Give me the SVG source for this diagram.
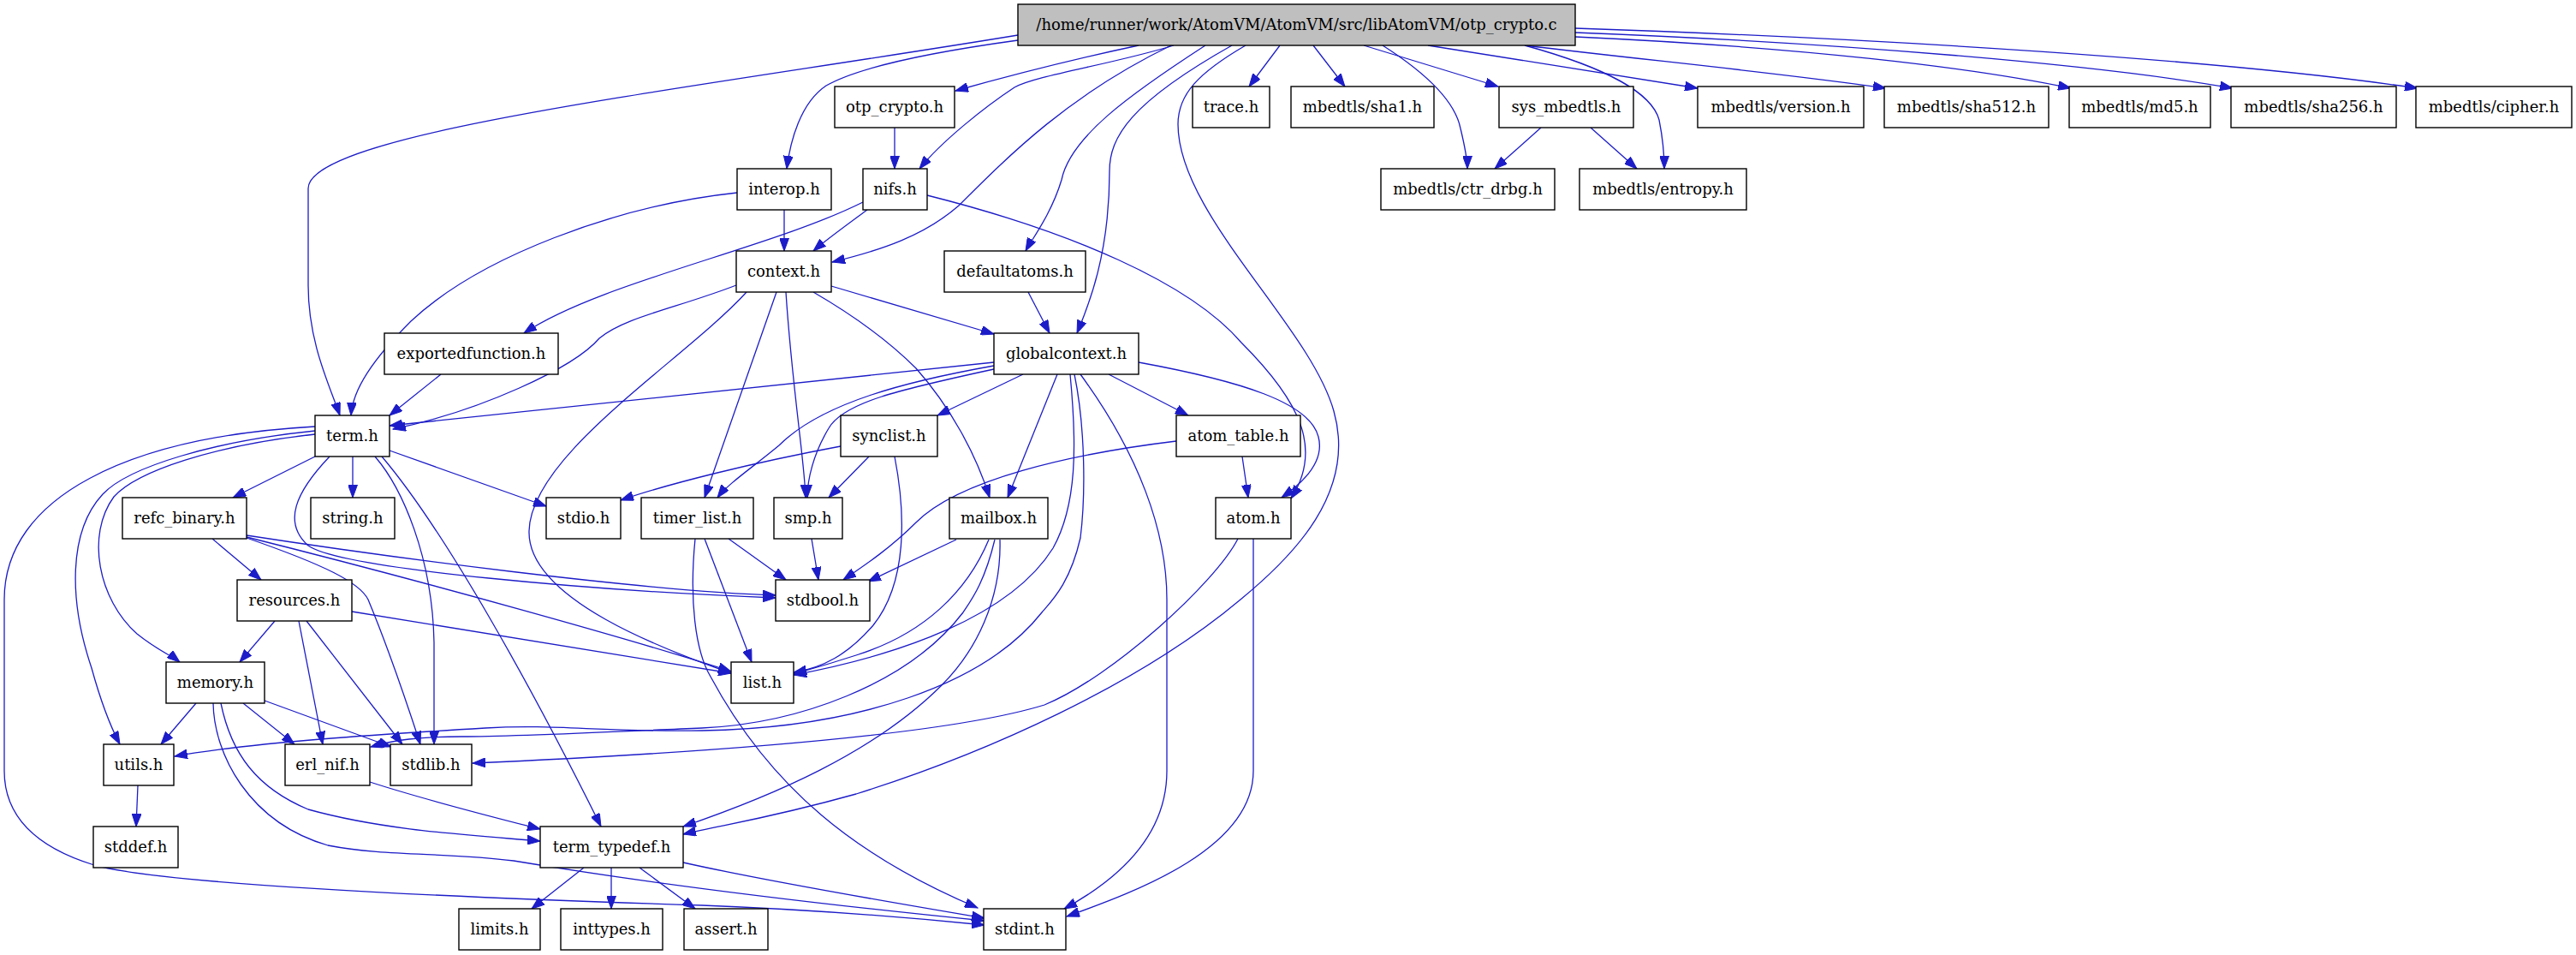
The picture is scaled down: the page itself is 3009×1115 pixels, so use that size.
<svg xmlns="http://www.w3.org/2000/svg" width="3009" height="1115" viewBox="0 0 3009 1115">
<defs>
<marker id="ah" markerUnits="userSpaceOnUse" markerWidth="16" markerHeight="11" refX="15" refY="5.5" orient="auto">
<path d="M0,0 L15,5.5 L0,11 z" fill="#1c1cc8" stroke="#1c1cc8" stroke-width="1"/>
</marker>
<style>
.nd rect{fill:#ffffff;stroke:#000000;stroke-width:1.4}
.nd.root rect{fill:#bfbfbf}
.nd text{font-family:"DejaVu Serif",serif;font-size:18px;text-anchor:middle;fill:#000}
#edges path{fill:none;stroke:#1c1cc8;stroke-width:1.3;marker-end:url(#ah)}
</style>
</defs>
<rect width="3009" height="1115" fill="#ffffff"/>
<g id="edges">
<!-- root -->
<path d="M1189,41 C800,105 360,155 360,220 L360,333 C360,400 385,450 397,485"/>
<path d="M1189,47 C1080,62 1000,80 965,100 C935,120 923,165 919,197"/>
<path d="M1330,53 C1250,70 1180,88 1116,106"/>
<path d="M1371,53 C1300,75 1210,88 1185,102 C1150,125 1100,165 1074,197"/>
<path d="M1368,53 C1250,110 1180,180 1120,240 C1080,275 1030,292 972,306"/>
<path d="M1408,53 C1320,110 1250,160 1240,210 C1228,250 1205,280 1198,293"/>
<path d="M1439,53 C1320,120 1296,160 1296,200 C1296,300 1270,360 1258,389"/>
<path d="M1455,53 C1400,85 1376,110 1376,145 C1376,250 1530,380 1558,480 C1585,575 1510,650 1449,700 C1330,800 1150,880 1000,927 C900,955 850,962 798,974"/>
<path d="M1495,53 L1459,101"/>
<path d="M1534,53 L1571,101"/>
<path d="M1593,53 L1750,101"/>
<path d="M1615,53 C1670,88 1700,120 1706,150 C1712,175 1714,188 1714,197"/>
<path d="M1781,53 C1880,80 1930,110 1938,140 C1944,170 1944,188 1944,197"/>
<path d="M1668,53 L1983,103"/>
<path d="M1781,53 C1920,70 2080,85 2203,103"/>
<path d="M1840,43 C2100,55 2300,78 2419,103"/>
<path d="M1840,38 C2150,50 2450,75 2608,103"/>
<path d="M1840,33 C2200,45 2600,70 2824,103"/>
<!-- row 2/3 -->
<path d="M1045,149 L1045,197"/>
<path d="M1800,149 L1746,197"/>
<path d="M1858,149 L1912,197"/>
<path d="M916,245 L916,293"/>
<path d="M861,225 C720,240 560,300 480,375 C435,420 412,455 410,485"/>
<path d="M1013,245 C990,262 965,280 950,293"/>
<path d="M1008,236 C900,290 700,330 612,389"/>
<path d="M1083,228 C1250,270 1390,330 1450,400 C1520,470 1545,525 1508,582"/>
<!-- context -->
<path d="M971,334 L1161,390"/>
<path d="M1201,341 L1226,389"/>
<path d="M860,333 C790,360 730,370 700,395 C670,430 560,480 459,501"/>
<path d="M872,341 C800,420 620,530 618,620 C616,700 780,760 854,786"/>
<path d="M907,341 L823,581"/>
<path d="M918,341 C925,450 940,540 941,581"/>
<path d="M950,341 C1000,370 1040,400 1070,430 C1110,475 1140,530 1156,581"/>
<path d="M515,437 L455,485"/>
<!-- globalcontext -->
<path d="M1161,423 L455,497"/>
<path d="M1195,437 L1095,485"/>
<path d="M1161,427 C1060,445 960,470 910,520 C880,545 850,565 838,581"/>
<path d="M1161,431 C1050,455 985,470 968,500 C950,530 943,560 943,581"/>
<path d="M1235,437 L1177,581"/>
<path d="M1295,437 L1388,485"/>
<path d="M1330,423 C1450,445 1530,470 1540,510 C1548,540 1520,565 1497,581"/>
<path d="M1250,437 C1258,520 1258,590 1230,640 C1180,720 1050,765 927,788"/>
<path d="M1262,437 C1330,530 1363,620 1363,700 L1363,900 C1363,980 1300,1030 1243,1061"/>
<path d="M1255,437 C1268,500 1268,580 1262,628 C1250,680 1230,700 1217,715 C1150,800 1000,850 820,853 C700,855 650,845 567,850 C450,857 300,866 204,883"/>
<!-- mailbox -->
<path d="M1162,630 C1150,680 1135,700 1125,715 C1060,800 930,845 820,850 C700,855 600,860 540,860 C490,860 460,864 433,872"/>
<path d="M1155,630 C1130,690 1080,740 1000,765 C960,778 940,783 927,787"/>
<path d="M1117,630 L1014,679"/>
<path d="M1168,630 C1170,700 1140,760 1100,800 C1020,880 900,930 798,965"/>
<!-- atom_table / atom -->
<path d="M1374,515 C1250,530 1120,560 1070,610 C1040,640 1010,660 985,677"/>
<path d="M1451,533 L1458,581"/>
<path d="M1464,629 L1464,900 C1464,990 1330,1040 1246,1070"/>
<path d="M1446,629 C1420,680 1300,790 1220,823 C1100,860 800,880 552,891"/>
<!-- synclist / smp / timer_list -->
<path d="M982,521 C880,540 780,565 725,584"/>
<path d="M1015,533 L968,581"/>
<path d="M1045,533 C1058,600 1060,680 1020,730 C990,765 960,780 927,785"/>
<path d="M948,629 L956,677"/>
<path d="M851,629 L918,677"/>
<path d="M823,629 L878,773"/>
<path d="M812,629 C805,700 812,760 830,790 C900,920 1000,1000 1142,1060"/>
<!-- term -->
<path d="M368,533 L272,581"/>
<path d="M412,533 L412,581"/>
<path d="M455,526 L638,591"/>
<path d="M385,533 C345,575 330,610 360,637 C400,665 700,690 906,698"/>
<path d="M438,533 C470,570 505,650 507,750 L507,869"/>
<path d="M446,533 C520,620 620,800 702,965"/>
<path d="M368,503 C250,515 150,545 120,577 C80,620 80,700 107,780 C118,820 130,850 140,869"/>
<path d="M368,507 C250,520 160,550 133,580 C100,625 115,700 160,740 C185,760 200,765 210,773"/>
<path d="M368,498 C150,510 5,580 5,700 L5,900 C5,955 45,990 110,1010 C200,1035 600,1050 820,1057 C950,1062 1050,1070 1150,1080"/>
<!-- refc_binary / resources -->
<path d="M248,629 L305,677"/>
<path d="M288,625 C450,650 750,690 906,695"/>
<path d="M288,627 C500,680 750,750 854,784"/>
<path d="M288,628 C380,660 420,680 430,700 C455,760 475,820 491,869"/>
<path d="M321,725 L280,773"/>
<path d="M349,725 L377,869"/>
<path d="M358,725 L470,869"/>
<path d="M411,714 L854,786"/>
<!-- memory -->
<path d="M229,821 L188,869"/>
<path d="M284,821 L344,869"/>
<path d="M309,818 L457,872"/>
<path d="M258,821 C270,880 300,920 360,945 C450,970 550,975 631,982"/>
<path d="M249,821 C250,880 290,960 383,987 C450,1000 520,995 600,1005 C720,1025 900,1050 1150,1075"/>
<!-- misc -->
<path d="M161,917 L159,965"/>
<path d="M432,913 C500,935 580,955 631,968"/>
<path d="M682,1013 L621,1061"/>
<path d="M714,1013 L714,1061"/>
<path d="M747,1013 L812,1061"/>
<path d="M798,1007 C900,1030 1050,1055 1150,1072"/>
</g>
<g id="n_root" class="nd root"><rect x="1189" y="5" width="651" height="48"/><text x="1514.5" y="35">/home/runner/work/AtomVM/AtomVM/src/libAtomVM/otp_crypto.c</text></g>
<g id="n_otp_crypto_h" class="nd"><rect x="975" y="101" width="140" height="48"/><text x="1045" y="131">otp_crypto.h</text></g>
<g id="n_trace_h" class="nd"><rect x="1393" y="101" width="90" height="48"/><text x="1438" y="131">trace.h</text></g>
<g id="n_sha1_h" class="nd"><rect x="1508" y="101" width="167" height="48"/><text x="1591.5" y="131">mbedtls/sha1.h</text></g>
<g id="n_sys_mbedtls_h" class="nd"><rect x="1751" y="101" width="157" height="48"/><text x="1829.5" y="131">sys_mbedtls.h</text></g>
<g id="n_version_h" class="nd"><rect x="1983" y="101" width="194" height="48"/><text x="2080" y="131">mbedtls/version.h</text></g>
<g id="n_sha512_h" class="nd"><rect x="2201" y="101" width="192" height="48"/><text x="2297" y="131">mbedtls/sha512.h</text></g>
<g id="n_md5_h" class="nd"><rect x="2417" y="101" width="165" height="48"/><text x="2499.5" y="131">mbedtls/md5.h</text></g>
<g id="n_sha256_h" class="nd"><rect x="2606" y="101" width="193" height="48"/><text x="2702.5" y="131">mbedtls/sha256.h</text></g>
<g id="n_cipher_h" class="nd"><rect x="2822" y="101" width="182" height="48"/><text x="2913" y="131">mbedtls/cipher.h</text></g>
<g id="n_interop_h" class="nd"><rect x="861" y="197" width="110" height="48"/><text x="916" y="227">interop.h</text></g>
<g id="n_nifs_h" class="nd"><rect x="1008" y="197" width="75" height="48"/><text x="1045.5" y="227">nifs.h</text></g>
<g id="n_ctr_drbg_h" class="nd"><rect x="1613" y="197" width="203" height="48"/><text x="1714.5" y="227">mbedtls/ctr_drbg.h</text></g>
<g id="n_entropy_h" class="nd"><rect x="1845" y="197" width="195" height="48"/><text x="1942.5" y="227">mbedtls/entropy.h</text></g>
<g id="n_context_h" class="nd"><rect x="860" y="293" width="111" height="48"/><text x="915.5" y="323">context.h</text></g>
<g id="n_defaultatoms_h" class="nd"><rect x="1103" y="293" width="165" height="48"/><text x="1185.5" y="323">defaultatoms.h</text></g>
<g id="n_exportedfunction_h" class="nd"><rect x="449" y="389" width="203" height="48"/><text x="550.5" y="419">exportedfunction.h</text></g>
<g id="n_globalcontext_h" class="nd"><rect x="1161" y="389" width="169" height="48"/><text x="1245.5" y="419">globalcontext.h</text></g>
<g id="n_term_h" class="nd"><rect x="368" y="485" width="87" height="48"/><text x="411.5" y="515">term.h</text></g>
<g id="n_synclist_h" class="nd"><rect x="982" y="485" width="113" height="48"/><text x="1038.5" y="515">synclist.h</text></g>
<g id="n_atom_table_h" class="nd"><rect x="1374" y="485" width="145" height="48"/><text x="1446.5" y="515">atom_table.h</text></g>
<g id="n_refc_binary_h" class="nd"><rect x="143" y="581" width="145" height="48"/><text x="215.5" y="611">refc_binary.h</text></g>
<g id="n_string_h" class="nd"><rect x="363" y="581" width="98" height="48"/><text x="412" y="611">string.h</text></g>
<g id="n_stdio_h" class="nd"><rect x="638" y="581" width="87" height="48"/><text x="681.5" y="611">stdio.h</text></g>
<g id="n_timer_list_h" class="nd"><rect x="749" y="581" width="131" height="48"/><text x="814.5" y="611">timer_list.h</text></g>
<g id="n_smp_h" class="nd"><rect x="904" y="581" width="80" height="48"/><text x="944" y="611">smp.h</text></g>
<g id="n_mailbox_h" class="nd"><rect x="1109" y="581" width="115" height="48"/><text x="1166.5" y="611">mailbox.h</text></g>
<g id="n_atom_h" class="nd"><rect x="1420" y="581" width="88" height="48"/><text x="1464" y="611">atom.h</text></g>
<g id="n_resources_h" class="nd"><rect x="277" y="677" width="134" height="48"/><text x="344" y="707">resources.h</text></g>
<g id="n_stdbool_h" class="nd"><rect x="906" y="677" width="110" height="48"/><text x="961" y="707">stdbool.h</text></g>
<g id="n_memory_h" class="nd"><rect x="194" y="773" width="115" height="48"/><text x="251.5" y="803">memory.h</text></g>
<g id="n_list_h" class="nd"><rect x="854" y="773" width="73" height="48"/><text x="890.5" y="803">list.h</text></g>
<g id="n_utils_h" class="nd"><rect x="121" y="869" width="82" height="48"/><text x="162" y="899">utils.h</text></g>
<g id="n_erl_nif_h" class="nd"><rect x="333" y="869" width="99" height="48"/><text x="382.5" y="899">erl_nif.h</text></g>
<g id="n_stdlib_h" class="nd"><rect x="456" y="869" width="95" height="48"/><text x="503.5" y="899">stdlib.h</text></g>
<g id="n_stddef_h" class="nd"><rect x="109" y="965" width="99" height="48"/><text x="158.5" y="995">stddef.h</text></g>
<g id="n_term_typedef_h" class="nd"><rect x="631" y="965" width="167" height="48"/><text x="714.5" y="995">term_typedef.h</text></g>
<g id="n_limits_h" class="nd"><rect x="536" y="1061" width="95" height="48"/><text x="583.5" y="1091">limits.h</text></g>
<g id="n_inttypes_h" class="nd"><rect x="655" y="1061" width="119" height="48"/><text x="714.5" y="1091">inttypes.h</text></g>
<g id="n_assert_h" class="nd"><rect x="799" y="1061" width="98" height="48"/><text x="848" y="1091">assert.h</text></g>
<g id="n_stdint_h" class="nd"><rect x="1149" y="1061" width="96" height="48"/><text x="1197" y="1091">stdint.h</text></g>
</svg>
